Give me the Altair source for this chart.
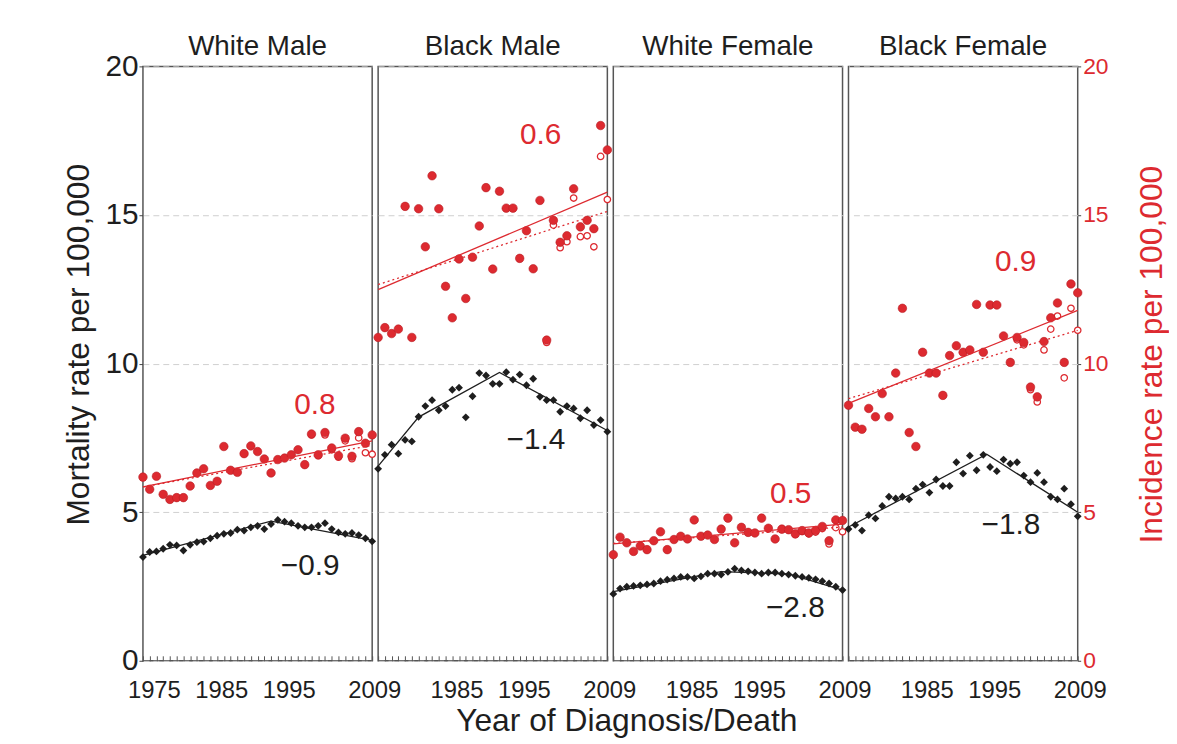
import altair as alt
import pandas as pd

years = list(range(1975, 2010))
groups = ["White Male", "Black Male", "White Female", "Black Female"]

# Mortality (black diamonds)
mort_wm = [3.49, 3.66, 3.68, 3.77, 3.90, 3.88, 3.71, 3.90, 3.99, 4.01, 4.12, 4.21, 4.27, 4.30, 4.41, 4.38, 4.49, 4.54,
           4.43, 4.60, 4.74, 4.68, 4.63, 4.54, 4.49, 4.49, 4.54, 4.63, 4.43, 4.32, 4.27, 4.30, 4.23, 4.12, 4.02]
mort_bm = [6.46, 6.93, 7.27, 6.97, 7.43, 7.38, 8.21, 8.57, 8.77, 8.43, 8.57, 9.12, 9.19, 8.19, 8.90, 9.68, 9.60, 9.32,
           9.32, 9.71, 9.46, 9.63, 9.27, 9.49, 8.88, 8.77, 8.77, 8.38, 8.57, 8.49, 8.16, 8.43, 7.93, 8.10, 7.71]
mort_wf = [2.25, 2.43, 2.49, 2.52, 2.54, 2.57, 2.60, 2.68, 2.73, 2.77, 2.82, 2.82, 2.77, 2.84, 2.93, 2.93, 2.90, 2.99,
           3.10, 3.04, 3.01, 2.97, 2.93, 2.97, 2.97, 2.93, 2.90, 2.86, 2.82, 2.79, 2.74, 2.68, 2.60, 2.49, 2.38]
mort_bf = [4.43, 4.57, 4.38, 4.90, 4.79, 5.21, 5.52, 5.46, 5.52, 5.43, 5.79, 5.93, 5.66, 6.10, 5.88, 5.88, 6.68, 6.30,
           6.90, 6.41, 6.93, 6.52, 6.38, 6.77, 6.63, 6.68, 6.23, 6.01, 6.32, 6.01, 5.52, 5.43, 5.79, 5.27, 4.86]

# Incidence (red filled circles)
inc_wm = [6.18, 5.77, 6.21, 5.60, 5.43, 5.49, 5.49, 5.88, 6.32, 6.46, 5.90, 6.04, 7.21, 6.41, 6.34, 6.97, 7.23, 7.04,
          6.79, 6.32, 6.77, 6.82, 6.93, 7.10, 6.60, 7.63, 6.93, 7.68, 7.16, 6.90, 7.49, 6.88, 7.71, 7.32, 7.60]
inc_bm = [10.88, 11.21, 11.01, 11.16, 15.29, 10.88, 15.21, 13.93, 16.32, 15.21, 12.60, 11.54, 13.52, 12.19, 13.58,
          14.63, 15.92, 13.18, 15.80, 15.23, 15.23, 13.54, 14.47, 13.19, 15.49, 10.79, 14.82, 14.08, 14.30, 15.88,
          14.60, 14.82, 14.54, 18.01, 17.19]
inc_wf = [3.57, 4.16, 3.97, 3.68, 3.86, 3.74, 4.04, 4.34, 3.74, 4.08, 4.19, 4.10, 4.74, 4.19, 4.23, 4.08, 4.43, 4.80,
          3.97, 4.49, 4.32, 4.30, 4.80, 4.46, 4.10, 4.43, 4.41, 4.27, 4.38, 4.30, 4.38, 4.52, 4.04, 4.74, 4.72]
inc_bf = [8.60, 7.86, 7.79, 8.49, 8.21, 8.99, 8.21, 9.68, 11.86, 7.68, 7.21, 10.38, 9.68, 9.68, 8.93, 10.27, 10.60,
          10.38, 10.46, 11.99, 10.38, 11.97, 11.97, 10.93, 10.04, 10.88, 10.71, 9.21, 8.88, 10.74, 11.54, 12.04, 10.04,
          12.68, 12.38]

# Observed incidence, recent years (red open circles)
obs_years = list(range(2000, 2010))
obs_wm = [7.60, 6.90, 7.60, 7.10, 6.85, 7.40, 6.80, 7.50, 7.00, 6.95]
obs_bm = [10.71, 14.66, 13.90, 14.10, 15.57, 14.27, 14.30, 13.93, 16.97, 15.52]
obs_wf = [4.42, 4.40, 4.25, 4.35, 4.27, 4.33, 4.45, 3.93, 4.48, 4.34]
obs_bf = [10.80, 10.63, 9.12, 8.71, 10.46, 11.16, 11.60, 9.52, 11.86, 11.12]

# Trend lines
inc_trend_years = [1975, 2009]
inc_trend_wm = [5.85, 7.40]
inc_trend_bm = [12.49, 15.77]
inc_trend_wf = [3.93, 4.60]
inc_trend_bf = [8.66, 11.79]
obs_trend_wm = [5.85, 7.25]
obs_trend_bm = [12.66, 15.12]
obs_trend_wf = [3.95, 4.50]
obs_trend_bf = [8.82, 11.12]

mort_trend_years_wm = [1975, 1994, 2009]
mort_trend_wm = [3.55, 4.70, 4.05]
mort_trend_years_bm = [1975, 1981, 1993, 2009]
mort_trend_bm = [6.55, 8.20, 9.70, 7.75]
mort_trend_years_wf = [1975, 1991, 2001, 2009]
mort_trend_wf = [2.33, 3.00, 2.92, 2.38]
mort_trend_years_bf = [1975, 1995.5, 2009]
mort_trend_bf = [4.50, 6.95, 5.00]

# Annotations (APC)
inc_apc = ["0.8", "0.6", "0.5", "0.9"]
inc_apc_year = [2000.5, 1999.1, 2001.3, 1999.8]
inc_apc_val = [8.6, 17.7, 5.6, 13.43]
mort_apc = ["\u22120.9", "\u22121.4", "\u22122.8", "\u22121.8"]
mort_apc_year = [1999.8, 1998.4, 2002.0, 1999.1]
mort_apc_val = [3.17, 7.43, 1.77, 4.57]

# Strip titles placed above each panel
strip_year = 1992
strip_val = 20.66

y_values = [0, 5, 10, 15, 20]

mort_all = [mort_wm, mort_bm, mort_wf, mort_bf]
inc_all = [inc_wm, inc_bm, inc_wf, inc_bf]
obs_all = [obs_wm, obs_bm, obs_wf, obs_bf]
inc_tr_all = [inc_trend_wm, inc_trend_bm, inc_trend_wf, inc_trend_bf]
obs_tr_all = [obs_trend_wm, obs_trend_bm, obs_trend_wf, obs_trend_bf]
mort_tr_years_all = [mort_trend_years_wm, mort_trend_years_bm, mort_trend_years_wf, mort_trend_years_bf]
mort_tr_all = [mort_trend_wm, mort_trend_bm, mort_trend_wf, mort_trend_bf]

RED = "#dd2a30"
DARK = "#1e1e1e"
FONT = "Liberation Sans"
W, H = 231, 599


def make_panel(i):
    g = groups[i]
    grid_kw = dict(grid=True, gridDash=[6, 4], gridColor="#d0d0d0")
    if i == 0:
        yax = alt.Axis(orient="left", values=y_values, title="Mortality rate per 100,000", labelFontSize=30,
                       titleFontSize=32, tickSize=4, labelPadding=1, titlePadding=10, domain=False,
                       labelColor=DARK, titleColor=DARK, tickColor="#444", titleY=280,
                       titleFontWeight="normal", labelFont=FONT, titleFont=FONT, **grid_kw)
    elif i == 3:
        yax = alt.Axis(orient="right", values=y_values, title="Incidence rate per 100,000", labelFontSize=23,
                       titleFontSize=32, tickSize=3, labelPadding=2, titlePadding=29, domain=False,
                       labelColor=RED, titleColor=RED, tickColor="#444", titleBaseline="top", titleY=290,
                       titleFontWeight="normal", titleAngle=270, labelFont=FONT, titleFont=FONT, **grid_kw)
    else:
        yax = alt.Axis(values=y_values, labels=False, ticks=False, domain=False, title=None, **grid_kw)
    if i == 0:
        lab = "(datum.value == 1975 || datum.value == 1985 || datum.value == 1995 || datum.value == 2009) ? datum.label : ''"
    else:
        lab = "(datum.value == 1985 || datum.value == 1995 || datum.value == 2009) ? datum.label : ''"
    xax = alt.Axis(values=years, format="d", labelExpr=lab, tickSize=5, offset=-5, domain=False, grid=False,
                   labelFontSize=24, labelPadding=18, labelFlush=False, labelOverlap=False, title=None,
                   labelOffset={"condition": {"test": "datum.value == 2009", "value": 2}, "value": 11},
                   tickColor="#555", labelColor=DARK, labelFont=FONT)
    xs = alt.Scale(domain=[1975, 2009], nice=False, zero=False)
    ys = alt.Scale(domain=[0, 20], nice=False)

    def X():
        return alt.X("year:Q", scale=xs, axis=xax)

    def Y(f):
        return alt.Y(f + ":Q", scale=ys, axis=yax)

    df_pts = pd.DataFrame({"year": years, "mort": mort_all[i], "inc": inc_all[i]})
    df_obs = pd.DataFrame({"year": obs_years, "obs": obs_all[i]})
    df_itr = pd.DataFrame({"year": inc_trend_years, "v": inc_tr_all[i]})
    df_otr = pd.DataFrame({"year": inc_trend_years, "v": obs_tr_all[i]})
    df_mtr = pd.DataFrame({"year": mort_tr_years_all[i], "v": mort_tr_all[i]})
    df_t1 = pd.DataFrame({"year": [inc_apc_year[i]], "v": [inc_apc_val[i]], "t": [inc_apc[i]]})
    df_t2 = pd.DataFrame({"year": [mort_apc_year[i]], "v": [mort_apc_val[i]], "t": [mort_apc[i]]})
    df_st = pd.DataFrame({"year": [strip_year], "v": [strip_val], "t": [g]})

    obs_pts = alt.Chart(df_obs).mark_point(shape="circle", filled=False, fill="white", size=42, color=RED,
                                           strokeWidth=1.3, opacity=1).encode(x=X(), y=Y("obs"))
    inc_pts = alt.Chart(df_pts).mark_circle(size=74, color=RED, opacity=1, stroke="#b81c24",
                                            strokeWidth=0.6).encode(x=X(), y=Y("inc"))
    mort_pts = alt.Chart(df_pts).mark_point(shape="diamond", filled=True, size=62, color=DARK,
                                            opacity=1).encode(x=X(), y=Y("mort"))
    itr = alt.Chart(df_itr).mark_line(color=RED, strokeWidth=1.3).encode(x=X(), y=Y("v"))
    otr = alt.Chart(df_otr).mark_line(color=RED, strokeWidth=1.3, strokeDash=[2, 3]).encode(x=X(), y=Y("v"))
    mtr = alt.Chart(df_mtr).mark_line(color=DARK, strokeWidth=1.3).encode(x=X(), y=Y("v"))
    t1 = alt.Chart(df_t1).mark_text(fontSize=30, font=FONT, color=RED).encode(x=X(), y=Y("v"), text="t:N")
    t2 = alt.Chart(df_t2).mark_text(fontSize=30, font=FONT, color=DARK).encode(x=X(), y=Y("v"), text="t:N")
    st = alt.Chart(df_st).mark_text(fontSize=28, font=FONT, color=DARK).encode(x=X(), y=Y("v"), text="t:N")

    return alt.layer(obs_pts, inc_pts, mort_pts, itr, otr, mtr, t1, t2, st).properties(width=W, height=H)


panels = [make_panel(i) for i in range(4)]

chart = alt.hconcat(*panels, spacing=6, bounds="flush").properties(
    padding={"left": 53, "top": 21, "right": 0, "bottom": 0},
    title=alt.TitleParams("Year of Diagnosis/Death", orient="bottom", anchor="middle", fontSize=32, font=FONT,
                          fontWeight="normal", color=DARK, offset=3, dx=12),
).configure_view(stroke="#555", strokeWidth=1.5)

chart.save("out.html", embed_options={"renderer": "svg", "actions": False})
